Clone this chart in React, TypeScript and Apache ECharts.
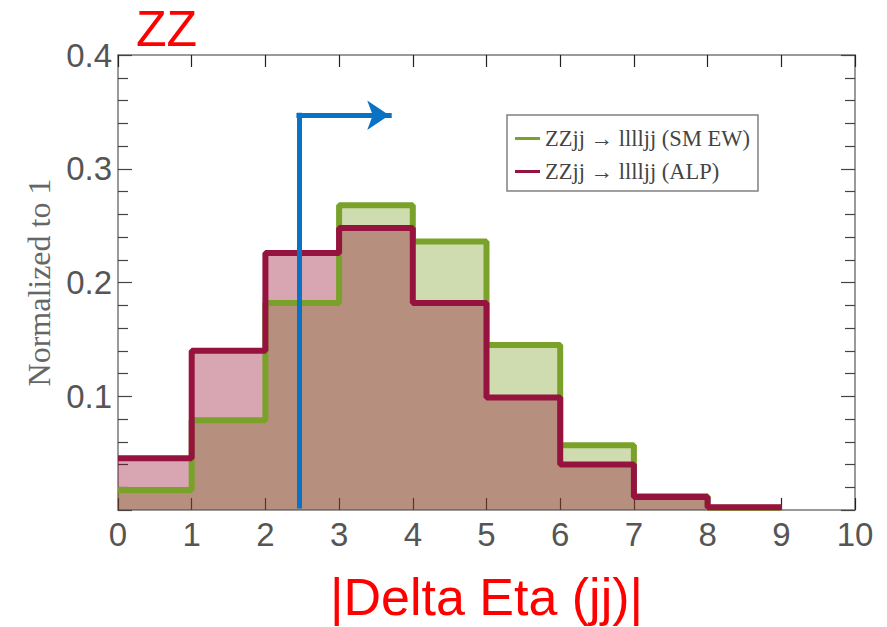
import React, { useEffect, useRef } from "react";
import * as echarts from "echarts";

const binEdges = [0, 1, 2, 3, 4, 5, 6, 7, 8, 9];
const smEW = [0.0175, 0.079, 0.182, 0.268, 0.236, 0.145, 0.057, 0.012, 0.002];
const alp = [0.0455, 0.14, 0.226, 0.248, 0.182, 0.099, 0.04, 0.0115, 0.0025];
const xTicks = [0, 1, 2, 3, 4, 5, 6, 7, 8, 9, 10];
const yTicks = [0.1, 0.2, 0.3, 0.4];
const cutStem = [
  [2.455, 0.0035],
  [2.455, 0.347],
];
const cutArrow = [
  [2.455, 0.347],
  [3.68, 0.347],
];

const SM_NAME = "ZZjj \u2192 lllljj (SM EW)";
const ALP_NAME = "ZZjj \u2192 lllljj (ALP)";

function stepPoints(vals: number[]) {
  const pts: number[][] = vals.map((v, i) => [binEdges[i], v]);
  pts.push([binEdges[vals.length], vals[vals.length - 1]]);
  return pts;
}

export default function App() {
  const ref = useRef<HTMLDivElement>(null);
  useEffect(() => {
    if (!ref.current) return;
    const chart = echarts.init(ref.current, null, { renderer: "svg" });
    const axisLine = { show: true, onZero: false, lineStyle: { color: "#9a9a9a", width: 2 } };
    const xCommon = {
      type: "value" as const,
      min: xTicks[0],
      max: xTicks[xTicks.length - 1],
      interval: 1,
      axisLine,
      splitLine: { show: false },
      axisTick: { show: true, inside: true, length: 12, lineStyle: { color: "#222", width: 1.2 } },
    };
    const yCommon = {
      type: "value" as const,
      min: 0,
      max: yTicks[yTicks.length - 1],
      interval: 0.1,
      axisLine,
      splitLine: { show: false },
      axisTick: { show: true, inside: true, length: 14, lineStyle: { color: "#444", width: 1.2 } },
      minorTick: { show: true, splitNumber: 5, length: 10, lineStyle: { color: "#444", width: 1.2 } },
      minorSplitLine: { show: false },
    };
    const arrowStyle = { color: "#0a72c4", width: 5, opacity: 1, cap: "square" };
    chart.setOption({
      animation: false,
      backgroundColor: "#ffffff",
      title: {
        text: "ZZ",
        left: 136,
        top: 4,
        padding: 0,
        textStyle: {
          color: "#ff0000",
          fontSize: 50,
          lineHeight: 50,
          fontWeight: "normal",
          fontFamily: "Liberation Sans",
        },
      },
      grid: { left: 118, right: 32, top: 55, bottom: 117, outerBoundsMode: "none", containLabel: false },
      legend: {
        orient: "vertical",
        left: 507,
        top: 115,
        padding: [12, 8, 8, 8],
        itemGap: 10,
        itemWidth: 25,
        itemHeight: 3,
        icon: "rect",
        backgroundColor: "#ffffff",
        borderColor: "#808080",
        borderWidth: 1.5,
        data: [SM_NAME, ALP_NAME],
        textStyle: { fontFamily: "Liberation Serif", fontSize: 22.5, color: "#444" },
      },
      xAxis: [
        {
          ...xCommon,
          position: "bottom",
          name: "|Delta Eta (jj)|",
          nameLocation: "middle",
          nameGap: 61,
          nameTextStyle: { color: "#ff0000", fontSize: 52, lineHeight: 52, fontFamily: "Liberation Sans" },
          axisLabel: { color: "#555", fontSize: 33, margin: 8, fontFamily: "Liberation Sans" },
        },
        { ...xCommon, position: "top", axisLabel: { show: false } },
      ],
      yAxis: [
        {
          ...yCommon,
          position: "left",
          name: "Normalized to 1",
          nameLocation: "middle",
          nameGap: 60,
          nameTextStyle: { color: "#666", fontSize: 32, fontFamily: "Liberation Serif" },
          axisLabel: {
            color: "#555",
            fontSize: 33,
            margin: 6,
            fontFamily: "Liberation Sans",
            formatter: (v: number) => (v === 0 ? "" : String(Math.round(v * 10) / 10)),
          },
        },
        { ...yCommon, position: "right", axisLabel: { show: false } },
      ],
      series: [
        {
          name: "smFill",
          type: "line",
          step: "end",
          data: stepPoints(smEW),
          symbol: "none",
          lineStyle: { width: 0 },
          areaStyle: { color: "rgba(122,160,40,0.37)", opacity: 1 },
          z: 1,
          silent: true,
        },
        {
          name: "alpFill",
          type: "line",
          step: "end",
          data: stepPoints(alp),
          symbol: "none",
          lineStyle: { width: 0 },
          areaStyle: { color: "rgba(140,0,35,0.35)", opacity: 1 },
          z: 2,
          silent: true,
        },
        {
          name: SM_NAME,
          type: "line",
          step: "end",
          data: stepPoints(smEW),
          symbol: "none",
          color: "#7aa22a",
          lineStyle: { width: 6, color: "#7aa22a" },
          z: 3,
        },
        {
          name: ALP_NAME,
          type: "line",
          step: "end",
          data: stepPoints(alp),
          symbol: "none",
          color: "#96133f",
          lineStyle: { width: 6, color: "#96133f" },
          z: 4,
        },
        {
          name: "cutStem",
          type: "lines",
          coordinateSystem: "cartesian2d",
          symbol: ["none", "none"],
          lineStyle: arrowStyle,
          data: [{ coords: cutStem }],
          z: 5,
          silent: true,
        },
        {
          name: "cutArrow",
          type: "lines",
          coordinateSystem: "cartesian2d",
          symbol: ["none", "arrow"],
          symbolSize: 22,
          lineStyle: arrowStyle,
          data: [{ coords: cutArrow }],
          z: 5,
          silent: true,
        },
      ],
    });
    return () => chart.dispose();
  }, []);
  return (
    <div
      ref={ref}
      style={{ position: "absolute", left: 0, top: 0, width: 887, height: 627 }}
    />
  );
}
